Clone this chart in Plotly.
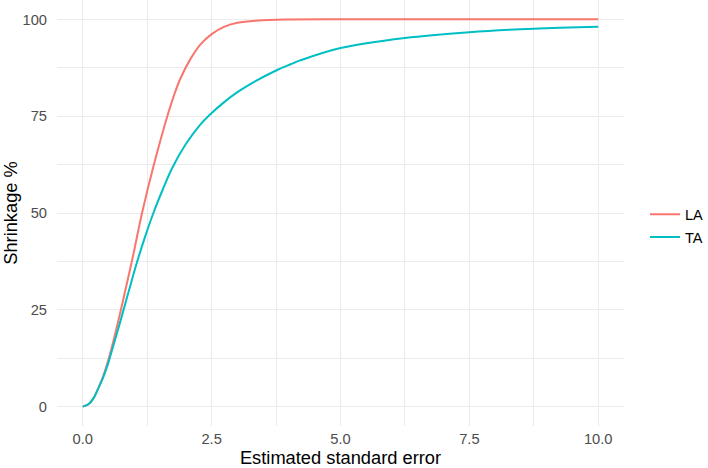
import plotly.graph_objects as go

# values
la_se = [0, 0.11, 0.21, 0.30, 0.40, 0.50, 0.59, 0.69, 0.80, 0.96, 1.15, 1.38,
         1.64, 1.76, 1.89, 2.09, 2.28, 2.50, 2.73, 3.00, 3.40, 4.00, 5.00, 7.50, 10.0]
la_shrink = [0, 0.6, 2.2, 4.7, 8.0, 12.2, 16.7, 22.2, 28.5, 38.0, 50.0, 62.5,
             75.0, 80.0, 84.6, 89.8, 93.5, 96.2, 98.0, 99.1, 99.7, 99.95, 100, 100, 100]

ta_se = [0, 0.11, 0.21, 0.30, 0.40, 0.50, 0.59, 0.69, 0.76, 0.90, 1.05, 1.20,
         1.37, 1.55, 1.73, 2.00, 2.28, 2.50, 2.75, 3.00, 3.25, 3.75, 4.03, 4.22,
         5.00, 6.25, 7.50, 8.75, 10.0]
ta_shrink = [0, 0.6, 2.2, 4.7, 7.7, 11.5, 15.6, 20.2, 23.5, 30.2, 37.2, 43.5,
             50.0, 56.0, 61.5, 67.8, 72.8, 75.8, 78.7, 81.2, 83.3, 86.8, 88.4, 89.4,
             92.6, 95.2, 96.7, 97.6, 98.1]

x_ticks = [0, 2.5, 5, 7.5, 10]
x_labels = ["0.0", "2.5", "5.0", "7.5", "10.0"]
y_ticks = [0, 25, 50, 75, 100]

grid = "#EBEBEB"

fig = go.Figure()
fig.add_trace(go.Scatter(x=la_se, y=la_shrink, name="LA", mode="lines",
                         line=dict(color="#F8766D", width=2, shape="spline", smoothing=1),
                         legendgroup="LA"))
fig.add_trace(go.Scatter(x=ta_se, y=ta_shrink, name="TA", mode="lines",
                         line=dict(color="#00BFC4", width=2, shape="spline", smoothing=1),
                         legendgroup="TA"))

fig.update_layout(
    width=708, height=468,
    # fixed margins: keep the legend from pushing the panel narrower
    margin=dict(l=57, r=84, t=0, b=42, autoexpand=False),
    paper_bgcolor="white", plot_bgcolor="white",
    font=dict(family="Liberation Sans, Arial, sans-serif", color="#000000"),
    legend=dict(x=1.037, xanchor="left", y=0.47, yanchor="middle",
                font=dict(size=14.5, color="#000000"), tracegroupgap=1,
                traceorder="grouped"),
)
fig.update_xaxes(
    range=[-0.5, 10.5], tickvals=x_ticks, ticktext=x_labels, automargin=False,
    showgrid=True, gridcolor=grid, gridwidth=1.4, zeroline=False, showline=False,
    minor=dict(tick0=0, dtick=1.25, showgrid=True, gridcolor=grid, gridwidth=0.7),
    tickfont=dict(size=14.7, color="#4D4D4D"), ticklabelstandoff=2,
    title=dict(text="Estimated standard error", font=dict(size=18.3), standoff=1),
)
fig.update_yaxes(
    range=[-5, 105], tickvals=y_ticks, automargin=False,
    showgrid=True, gridcolor=grid, gridwidth=1.4, zeroline=False, showline=False,
    minor=dict(tick0=0, dtick=12.5, showgrid=True, gridcolor=grid, gridwidth=0.7),
    tickfont=dict(size=14.7, color="#4D4D4D"), ticklabelstandoff=9,
    title=dict(text="Shrinkage %", font=dict(size=18.3), standoff=1),
)

# drop the default page margin so the figure sits at the window's corner
fig.write_html("out.html", config={"displayModeBar": False},
               post_script="document.body.style.margin='0';")
